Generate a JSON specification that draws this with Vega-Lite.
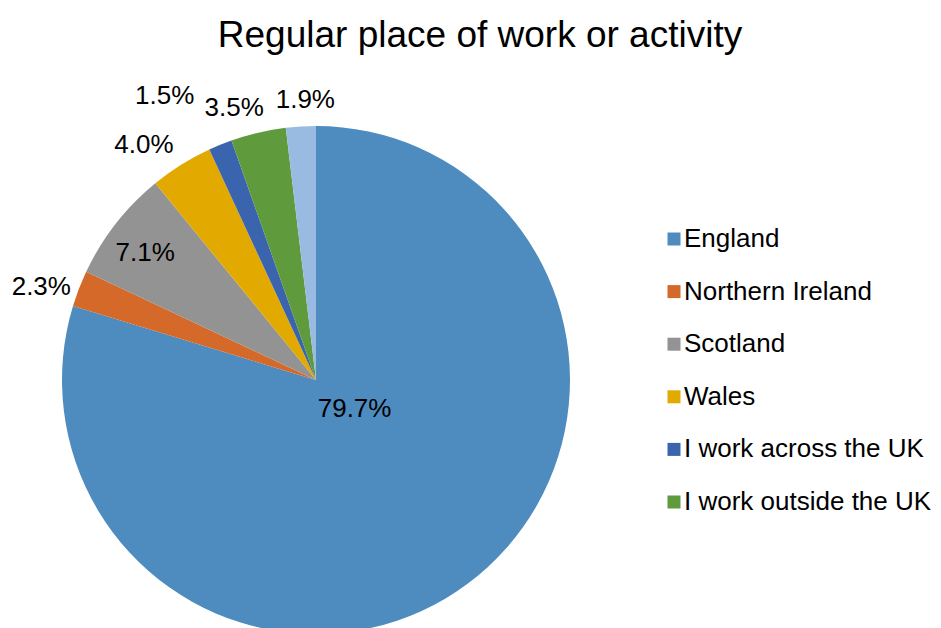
{
  "$schema": "https://vega.github.io/schema/vega-lite/v6.json",
  "width": 632,
  "height": 508,
  "autosize": {"type": "none"},
  "padding": {"left": 0, "top": 126, "right": 309, "bottom": 0},
  "background": "white",
  "title": {
    "text": "Regular place of work or activity",
    "font": "Liberation Sans",
    "fontSize": 37,
    "fontWeight": "normal",
    "color": "black",
    "anchor": "middle",
    "dx": 164,
    "offset": 5
  },
  "config": {"view": {"stroke": null}, "font": "Liberation Sans"},
  "data": {
    "values": [
      {"cat": "England", "value": 0.797, "order": 1},
      {"cat": "Northern Ireland", "value": 0.023, "order": 2},
      {"cat": "Scotland", "value": 0.071, "order": 3},
      {"cat": "Wales", "value": 0.040, "order": 4},
      {"cat": "I work across the UK", "value": 0.015, "order": 5},
      {"cat": "I work outside the UK", "value": 0.035, "order": 6},
      {"cat": "Other", "value": 0.019, "order": 7}
    ]
  },
  "encoding": {
    "theta": {"field": "value", "type": "quantitative", "stack": true},
    "order": {"field": "order", "type": "quantitative"},
    "color": {
      "field": "cat",
      "type": "nominal",
      "sort": null,
      "scale": {
        "domain": ["England", "Northern Ireland", "Scotland", "Wales", "I work across the UK", "I work outside the UK", "Other"],
        "range": ["#4E8BBF", "#D4692A", "#939393", "#E2AA00", "#3A64AD", "#5F9A3D", "#9ABBE1"]
      },
      "legend": {
        "orient": "none",
        "legendX": 661,
        "legendY": 100,
        "padding": 0,
        "title": null,
        "values": ["England", "Northern Ireland", "Scotland", "Wales", "I work across the UK", "I work outside the UK"],
        "labelFont": "Liberation Sans",
        "labelFontSize": 26,
        "labelColor": "black",
        "labelOffset": -3,
        "labelLimit": 400,
        "symbolType": "square",
        "symbolSize": 169,
        "symbolStrokeWidth": 0,
        "rowPadding": 26.6
      }
    }
  },
  "layer": [
    {"mark": {"type": "arc", "outerRadius": 254}},
    {
      "mark": {"type": "text", "radius": 48, "dx": 10, "dy": -10, "fontSize": 26, "align": "center", "baseline": "middle"},
      "encoding": {"color": {"value": "black"}, "text": {"condition": {"test": "datum.cat === 'England'", "field": "value", "type": "quantitative", "format": ".1%"}, "value": ""}}
    },
    {
      "mark": {"type": "text", "radius": 289, "dx": -5, "dy": 11, "fontSize": 26, "align": "center", "baseline": "middle"},
      "encoding": {"color": {"value": "black"}, "text": {"condition": {"test": "datum.cat === 'Northern Ireland'", "field": "value", "type": "quantitative", "format": ".1%"}, "value": ""}}
    },
    {
      "mark": {"type": "text", "radius": 213, "dx": -3, "dy": 4, "fontSize": 26, "align": "center", "baseline": "middle"},
      "encoding": {"color": {"value": "black"}, "text": {"condition": {"test": "datum.cat === 'Scotland'", "field": "value", "type": "quantitative", "format": ".1%"}, "value": ""}}
    },
    {
      "mark": {"type": "text", "radius": 296, "dx": -15, "dy": 16, "fontSize": 26, "align": "center", "baseline": "middle"},
      "encoding": {"color": {"value": "black"}, "text": {"condition": {"test": "datum.cat === 'Wales'", "field": "value", "type": "quantitative", "format": ".1%"}, "value": ""}}
    },
    {
      "mark": {"type": "text", "radius": 322, "dx": -30, "dy": 14, "fontSize": 26, "align": "center", "baseline": "middle"},
      "encoding": {"color": {"value": "black"}, "text": {"condition": {"test": "datum.cat === 'I work across the UK'", "field": "value", "type": "quantitative", "format": ".1%"}, "value": ""}}
    },
    {
      "mark": {"type": "text", "radius": 285, "dx": -17, "dy": 6, "fontSize": 26, "align": "center", "baseline": "middle"},
      "encoding": {"color": {"value": "black"}, "text": {"condition": {"test": "datum.cat === 'I work outside the UK'", "field": "value", "type": "quantitative", "format": ".1%"}, "value": ""}}
    },
    {
      "mark": {"type": "text", "radius": 279, "dx": 6, "dy": -1, "fontSize": 26, "align": "center", "baseline": "middle"},
      "encoding": {"color": {"value": "black"}, "text": {"condition": {"test": "datum.cat === 'Other'", "field": "value", "type": "quantitative", "format": ".1%"}, "value": ""}}
    }
  ]
}
